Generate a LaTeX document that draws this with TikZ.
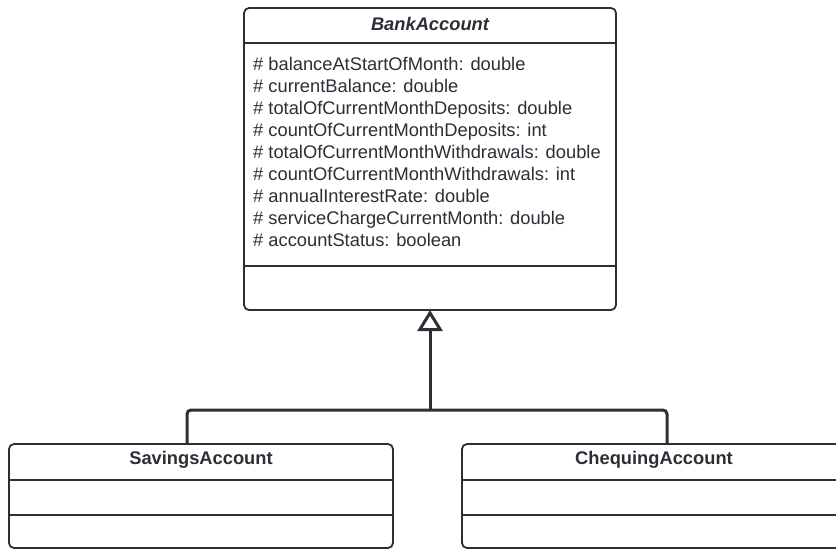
\documentclass[tikz,border=0pt]{standalone}
\usepackage{fontspec}
\setmainfont{Liberation Sans}
\usetikzlibrary{arrows.meta}
\definecolor{umlgray}{HTML}{2B2F36}

\begin{document}
\begin{tikzpicture}[x=1pt, y=-1pt,
   classbox/.style={draw=umlgray, line width=1.8pt, rounded corners=5pt, fill=white,
                    inner sep=0pt, outer sep=0pt},
   classname/.style={text=umlgray, font=\fontsize{18.3}{20}\selectfont\bfseries},
   attr/.style={text=umlgray, anchor=base west, inner sep=0pt, font=\fontsize{18.3}{20}\selectfont},
   sepline/.style={draw=umlgray, line width=1.8pt},
   inherit/.style={draw=umlgray, line width=3pt}]
\useasboundingbox (0,0) rectangle (836,550);
\fill[white] (0,0) rectangle (836,550);
\clip (0,0) rectangle (836,550);

% Parent class
\node[classbox, minimum width=372pt, minimum height=302pt] (bank) at (430,159) {};
\node[classname, font=\fontsize{18.3}{20}\selectfont\bfseries\itshape] (banktitle) at (430,24) {BankAccount};
\draw[sepline] (244,43) -- (616,43);
\draw[sepline] (244,266) -- (616,266);
\foreach \attr [count=\i from 0] in {%
   balanceAtStartOfMonth: double,
   currentBalance: double,
   totalOfCurrentMonthDeposits: double,
   countOfCurrentMonthDeposits: int,
   totalOfCurrentMonthWithdrawals: double,
   countOfCurrentMonthWithdrawals: int,
   annualInterestRate: double,
   serviceChargeCurrentMonth: double,
   accountStatus: boolean}
   \node[attr] (attr\i) at (253,70+22*\i) {\# \attr};

% Child classes
\node[classbox, minimum width=384pt, minimum height=104pt] (sav) at (201,496) {};
\node[classname] (savtitle) at (201,460) {SavingsAccount};
\draw[sepline] (9,480) -- (393,480);
\draw[sepline] (9,515) -- (393,515);

\node[classbox, minimum width=384pt, minimum height=104pt] (chq) at (654,496) {};
\node[classname] (chqtitle) at (654,460) {ChequingAccount};
\draw[sepline] (462,480) -- (846,480);
\draw[sepline] (462,515) -- (846,515);

% Generalisation
\coordinate (join) at (430,410);
\draw[inherit, rounded corners=4pt] ([xshift=-14pt]sav.north) |- (join) -| ([xshift=13pt]chq.north);
\draw[inherit, -{Triangle[open, length=21pt, width=25pt, fill=white, line width=3pt]}] (join) -- (bank.south);
\end{tikzpicture}
\end{document}
